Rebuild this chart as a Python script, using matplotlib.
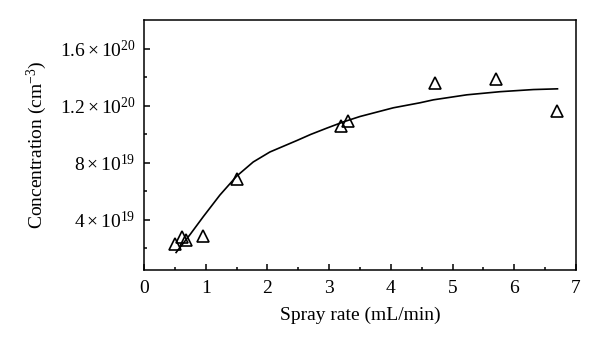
import matplotlib
matplotlib.use("Agg")
import matplotlib.pyplot as plt
from matplotlib.ticker import FixedLocator, MultipleLocator

plt.rcParams['font.family'] = 'Liberation Serif'
plt.rcParams['mathtext.fontset'] = 'custom'
plt.rcParams['mathtext.rm'] = 'Liberation Serif'
plt.rcParams['mathtext.it'] = 'Liberation Serif:italic'

# measured carrier concentration vs spray rate
spray_rate = [0.50, 0.62, 0.68, 0.96, 1.50, 3.19, 3.30, 4.71, 5.70, 6.70]
concentration = [2.35e19, 2.8e19, 2.6e19, 2.9e19, 6.9e19, 1.06e20, 1.095e20, 1.358e20, 1.389e20, 1.163e20]

# fitted trend line
fit_x = [0.52, 0.75, 0.96, 1.23, 1.50, 1.77, 2.04, 2.48, 2.70, 2.96, 3.23, 3.50,
         4.04, 4.47, 4.69, 5.23, 5.77, 6.31, 6.70]
fit_y = [1.72e19, 3.0e19, 4.23e19, 5.75e19, 7.07e19, 8.07e19, 8.77e19, 9.58e19, 1.0e20, 1.044e20,
         1.088e20, 1.126e20, 1.187e20, 1.222e20, 1.243e20, 1.278e20, 1.30e20, 1.315e20, 1.32e20]

yticks = [4e19, 8e19, 1.2e20, 1.6e20]
yticklabels = [r'$4\times10^{19}$', r'$8\times10^{19}$', r'$1.2\times10^{20}$', r'$1.6\times10^{20}$']

fig = plt.figure(figsize=(6, 3.46), dpi=100)
ax = fig.add_axes([0.24, 0.22, 0.72, 0.721])

ax.plot(fit_x, fit_y, color='black', lw=1.2)
ax.plot(spray_rate, concentration, linestyle='none', marker='^', markersize=8,
        markerfacecolor='none', markeredgecolor='black', markeredgewidth=1.2)

ax.set_xlim(0, 7)
ax.set_ylim(0.5e19, 1.8e20)
ax.xaxis.set_major_locator(MultipleLocator(1))
ax.xaxis.set_minor_locator(MultipleLocator(0.5))
ax.yaxis.set_major_locator(FixedLocator(yticks))
ax.yaxis.set_minor_locator(FixedLocator([2e19, 6e19, 1e20, 1.4e20]))
ax.set_yticklabels(yticklabels)

ax.tick_params(which='both', direction='in', top=False, right=False, labelsize=14, width=1.1)
ax.tick_params(which='major', length=4.5)
ax.tick_params(which='minor', length=2.5)
ax.tick_params(axis='x', pad=7)
ax.tick_params(axis='y', pad=6)
for s in ax.spines.values():
    s.set_linewidth(1.1)

ax.set_xlabel('Spray rate (mL/min)', fontsize=14, labelpad=7)
ax.set_ylabel(r'Concentration (cm$^{-3}$)', fontsize=14, labelpad=8)

fig.savefig('out.png', dpi=100)
